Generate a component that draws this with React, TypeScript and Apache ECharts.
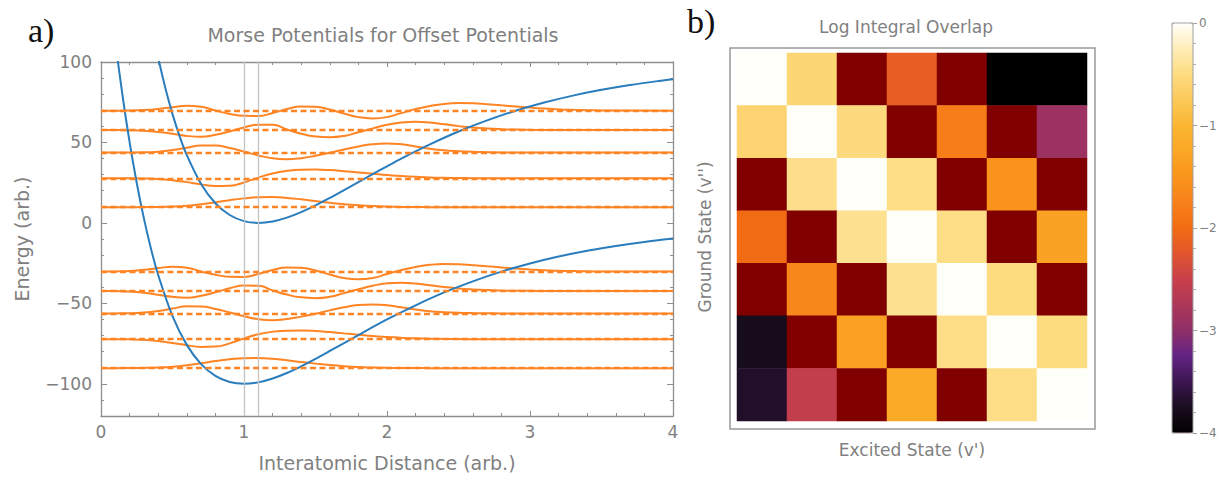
import React, { useEffect, useRef } from 'react';
import * as echarts from 'echarts';

// ---------- Data ----------
// Morse potential curves (Energy vs interatomic distance)
const GROUND_R = [0.05, 0.1, 0.15, 0.2, 0.25, 0.3, 0.35, 0.4, 0.5, 0.6, 0.7, 0.8, 0.9, 1.0, 1.1, 1.2, 1.3, 1.4, 1.5, 1.6, 1.8, 2.0, 2.2, 2.4, 2.6, 2.8, 3.0, 3.2, 3.4, 3.6, 3.8, 4.0];
const GROUND_V = [151.5, 113.0, 79.5, 50.2, 24.8, 2.8, -16.2, -32.4, -57.9, -75.8, -87.8, -95.1, -98.9, -100, -99.1, -96.7, -93.3, -89.1, -84.5, -79.6, -69.7, -60.0, -51.2, -43.2, -36.3, -30.3, -25.2, -20.9, -17.3, -14.3, -11.8, -9.7];
const EXCITED_R = [0.3, 0.35, 0.4, 0.45, 0.5, 0.55, 0.6, 0.7, 0.8, 0.9, 1.0, 1.1, 1.2, 1.3, 1.4, 1.5, 1.6, 1.7, 1.8, 1.9, 2.0, 2.1, 2.3, 2.5, 2.7, 2.9, 3.1, 3.3, 3.5, 3.7, 3.9, 4.0];
const EXCITED_V = [150.2, 124.8, 102.8, 83.8, 67.6, 53.8, 42.1, 24.2, 12.2, 4.9, 1.1, 0, 0.9, 3.3, 6.7, 10.9, 15.5, 20.4, 25.3, 30.3, 35.2, 40.0, 48.8, 56.8, 63.7, 69.7, 74.8, 79.1, 82.7, 85.7, 88.2, 89.3];

// Vibrational energy levels
const GROUND_LEVELS = [-90.25, -72.25, -56.25, -42.25, -30.25];
const EXCITED_LEVELS = [9.75, 27.75, 43.75, 57.75, 69.75];
// Equilibrium distances (also the two grey vertical guide lines)
const GROUND_R0 = 1.0;
const EXCITED_R0 = 1.1;
const GUIDE_LINES = [1.0, 1.1];

// Wavefunction offsets from their level, sampled at distance u = r - r0
const U_GRID = [-1.0, -0.9, -0.8, -0.7, -0.6, -0.5, -0.4, -0.3, -0.2, -0.1, 0.0, 0.1, 0.2, 0.3, 0.4, 0.5, 0.6, 0.7, 0.8, 0.9, 1.0, 1.1, 1.2, 1.3, 1.4, 1.5, 1.6, 1.7, 1.8, 1.9, 2.0, 2.1, 2.2, 2.3, 2.4, 2.5];
const WAVE_0 = [0, 0, 0.05, 0.15, 0.4, 0.9, 1.8, 3.0, 4.4, 5.5, 6.2, 6.3, 5.8, 4.9, 3.8, 2.8, 1.9, 1.2, 0.7, 0.4, 0.2, 0.1, 0.05, 0, 0, 0, 0, 0, 0, 0, 0, 0, 0, 0, 0, 0];
const WAVE_1 = [0, 0, -0.1, -0.4, -1.2, -2.4, -3.8, -4.8, -4.6, -2.6, 0.4, 3.0, 4.6, 5.3, 5.4, 5.1, 4.4, 3.6, 2.8, 2.0, 1.4, 0.9, 0.5, 0.3, 0.15, 0.05, 0, 0, 0, 0, 0, 0, 0, 0, 0, 0];
const WAVE_2 = [0, 0.02, 0.1, 0.5, 1.5, 3.0, 4.4, 4.3, 2.8, 0.6, -1.8, -3.6, -4.2, -3.5, -2.0, -0.2, 1.9, 3.8, 5.2, 5.6, 5.1, 3.8, 2.4, 1.4, 0.8, 0.4, 0.2, 0.08, 0, 0, 0, 0, 0, 0, 0, 0];
const WAVE_3 = [0, -0.1, -0.4, -1.2, -2.4, -3.7, -4.2, -3.0, -0.9, 1.6, 3.3, 3.2, 0.3, -2.3, -4.0, -4.5, -3.7, -1.4, 1.0, 3.2, 4.7, 5.1, 4.6, 3.5, 2.4, 1.5, 0.9, 0.5, 0.25, 0.1, 0.03, 0, 0, 0, 0, 0];
const WAVE_4 = [0.02, 0.1, 0.4, 1.1, 2.2, 3.0, 2.4, 0.1, -2.0, -3.2, -3.3, -1.5, 1.0, 2.6, 2.4, 0.7, -1.8, -4.0, -4.8, -4.0, -1.5, 1.0, 2.9, 4.2, 4.7, 4.6, 4.0, 3.3, 2.6, 1.9, 1.3, 0.8, 0.5, 0.3, 0.15, 0.05];
const WAVES = [WAVE_0, WAVE_1, WAVE_2, WAVE_3, WAVE_4];

// Heatmap: log integral overlap, rows = ground state v'', columns = excited state v'
// (-6 marks cells below the colour range, drawn in dark red)
const EXCITED_STATES = ['0', '1', '2', '3', '4', '5', '6'];
const GROUND_STATES = ['0', '1', '2', '3', '4', '5', '6'];
const OVERLAP_ROW_0 = [0, -0.58, -6, -2.15, -6, -4, -4];
const OVERLAP_ROW_1 = [-0.6, 0, -0.52, -6, -1.8, -6, -2.9];
const OVERLAP_ROW_2 = [-6, -0.45, 0, -0.47, -6, -1.52, -6];
const OVERLAP_ROW_3 = [-2.02, -6, -0.43, 0, -0.47, -6, -1.32];
const OVERLAP_ROW_4 = [-6, -1.68, -6, -0.43, 0, -0.5, -6];
const OVERLAP_ROW_5 = [-3.78, -6, -1.35, -6, -0.47, 0, -0.5];
const OVERLAP_ROW_6 = [-3.7, -2.55, -6, -1.2, -6, -0.47, 0];
const OVERLAP_ROWS = [OVERLAP_ROW_0, OVERLAP_ROW_1, OVERLAP_ROW_2, OVERLAP_ROW_3, OVERLAP_ROW_4, OVERLAP_ROW_5, OVERLAP_ROW_6];

// Colour scale (-4 .. 0, evenly spaced stops)
const COLOR_STOPS = ['#000000', '#1a0d1f', '#3b1650', '#632385', '#8e2f68', '#ad3758', '#c8404a', '#e0552e', '#f26c12', '#f7811a', '#f9951c', '#fba726', '#fbb631', '#fcc95a', '#fddc80', '#feedb8', '#fffffa'];
const BELOW_RANGE_COLOR = '#800000';

// ---------- Styling ----------
const FONT = '"DejaVu Sans", sans-serif';
const GRAY = '#808080';
const FRAME = '#8e8e8e';
const BLUE = '#2a7dbc';
const ORANGE = '#ff8424';

const fmt = (v: number) => (v < 0 ? '\u2212' + Math.abs(v) : String(v));

function buildWave(r0: number, level: number, dev: number[]) {
  const pts: number[][] = [[0, level]];
  U_GRID.forEach((u, i) => {
    const r = Math.round((r0 + u) * 1000) / 1000;
    if (r > 0.001 && r < 3.999) pts.push([r, level + dev[i]]);
  });
  pts.push([4, level]);
  return pts;
}

export default function App() {
  const ref = useRef<HTMLDivElement>(null);

  useEffect(() => {
    if (!ref.current) return;
    const chart = echarts.init(ref.current, undefined, { renderer: 'svg' });

    const frameAxis = (extra: any) => ({
      gridIndex: 0,
      type: 'value',
      axisLine: { show: true, onZero: false, lineStyle: { color: FRAME, width: 1.3 } },
      splitLine: { show: false },
      minorSplitLine: { show: false },
      ...extra,
    });

    const waveSeries: any[] = [];
    const addWaves = (r0: number, levels: number[]) => {
      levels.forEach((lvl, n) => {
        waveSeries.push({
          type: 'line',
          xAxisIndex: 0,
          yAxisIndex: 0,
          data: buildWave(r0, lvl, WAVES[n]),
          symbol: 'none',
          smooth: 0.5,
          silent: true,
          z: 2,
          lineStyle: { color: ORANGE, width: 2 },
          markLine: {
            silent: true,
            symbol: ['none', 'none'],
            label: { show: false },
            lineStyle: { color: ORANGE, width: 2.3, type: [6, 3.5] },
            data: [{ yAxis: lvl }],
          },
        });
      });
    };
    addWaves(EXCITED_R0, EXCITED_LEVELS);
    addWaves(GROUND_R0, GROUND_LEVELS);

    const heatData: number[][] = [];
    OVERLAP_ROWS.forEach((row, y) => row.forEach((v, x) => heatData.push([x, y, v])));

    const series: any[] = [
      {
        type: 'line',
        xAxisIndex: 0,
        yAxisIndex: 0,
        data: [],
        silent: true,
        z: 1,
        markLine: {
          silent: true,
          symbol: ['none', 'none'],
          label: { show: false },
          lineStyle: { color: '#c4c4c4', width: 1.3, type: 'solid' },
          data: GUIDE_LINES.map((x) => ({ xAxis: x })),
        },
      },
      ...waveSeries,
      {
        type: 'line',
        xAxisIndex: 0,
        yAxisIndex: 0,
        data: GROUND_R.map((r, i) => [r, GROUND_V[i]]),
        symbol: 'none',
        smooth: 0.3,
        silent: true,
        z: 3,
        lineStyle: { color: BLUE, width: 2 },
      },
      {
        type: 'line',
        xAxisIndex: 0,
        yAxisIndex: 0,
        data: EXCITED_R.map((r, i) => [r, EXCITED_V[i]]),
        symbol: 'none',
        smooth: 0.3,
        silent: true,
        z: 3,
        lineStyle: { color: BLUE, width: 2 },
      },
      {
        type: 'heatmap',
        xAxisIndex: 2,
        yAxisIndex: 4,
        data: heatData,
        silent: true,
        emphasis: { disabled: true },
        itemStyle: { borderWidth: 0 },
      },
    ];
    const heatIndex = series.length - 1;

    const majorY = [-100, -50, 0, 50, 100];

    chart.setOption({
      animation: false,
      backgroundColor: '#ffffff',
      textStyle: { fontFamily: FONT },
      grid: [
        { left: 101, top: 62, width: 572, height: 356 },
        { left: 737, top: 53, width: 350, height: 368 },
        { left: 1172, top: 23, width: 21, height: 410, show: true, borderColor: '#a0a0a0', borderWidth: 1, backgroundColor: 'transparent', z: 10 },
      ],
      xAxis: [
        frameAxis({
          min: 0, max: 4, interval: 1, position: 'bottom',
          axisTick: { show: true, inside: true, length: 5, lineStyle: { color: FRAME } },
          minorTick: { show: true, splitNumber: 5, length: 3, lineStyle: { color: FRAME } },
          axisLabel: { color: GRAY, fontSize: 17, fontFamily: FONT, margin: 7 },
          name: 'Interatomic Distance (arb.)',
          nameLocation: 'middle',
          nameGap: 37,
          nameTextStyle: { color: GRAY, fontSize: 19, fontFamily: FONT },
        }),
        frameAxis({
          min: 0, max: 4, interval: 1, position: 'top',
          axisTick: { show: true, inside: true, length: 5, lineStyle: { color: FRAME } },
          minorTick: { show: true, splitNumber: 5, length: 3, lineStyle: { color: FRAME } },
          axisLabel: { show: false },
        }),
        {
          gridIndex: 1, type: 'category', data: EXCITED_STATES, position: 'bottom',
          axisLine: { show: false }, axisTick: { show: false }, axisLabel: { show: false }, splitLine: { show: false },
          name: "Excited State (v')", nameLocation: 'middle', nameGap: 20,
          nameTextStyle: { color: GRAY, fontSize: 17, fontFamily: FONT },
        },
        { gridIndex: 2, type: 'category', data: ['scale'], show: false },
      ],
      yAxis: [
        frameAxis({
          min: -120, max: 100, interval: 10, position: 'left',
          axisTick: { show: true, inside: true, length: 3, lineStyle: { color: FRAME } },
          axisLabel: {
            color: GRAY, fontSize: 17, fontFamily: FONT, margin: 9,
            formatter: (v: number) => (v % 50 === 0 ? fmt(v) : ''),
          },
          name: 'Energy (arb.)',
          nameLocation: 'middle',
          nameGap: 70,
          nameTextStyle: { color: GRAY, fontSize: 19, fontFamily: FONT },
        }),
        frameAxis({
          min: -120, max: 100, interval: 10, position: 'left',
          axisLine: { show: false, onZero: false },
          axisTick: { show: true, inside: true, length: 6, customValues: majorY, lineStyle: { color: FRAME } },
          axisLabel: { show: false },
        }),
        frameAxis({
          min: -120, max: 100, interval: 10, position: 'right',
          axisTick: { show: true, inside: true, length: 3, lineStyle: { color: FRAME } },
          axisLabel: { show: false },
        }),
        frameAxis({
          min: -120, max: 100, interval: 10, position: 'right',
          axisLine: { show: false, onZero: false },
          axisTick: { show: true, inside: true, length: 6, customValues: majorY, lineStyle: { color: FRAME } },
          axisLabel: { show: false },
        }),
        {
          gridIndex: 1, type: 'category', data: GROUND_STATES, inverse: true, position: 'left',
          axisLine: { show: false }, axisTick: { show: false }, axisLabel: { show: false }, splitLine: { show: false },
          name: "Ground State (v'')", nameLocation: 'middle', nameGap: 24,
          nameTextStyle: { color: GRAY, fontSize: 17, fontFamily: FONT },
        },
        {
          gridIndex: 2, type: 'value', min: -4, max: 0, interval: 1, position: 'right',
          axisLine: { show: false, onZero: false },
          axisTick: { show: true, inside: false, length: 4, lineStyle: { color: '#a0a0a0' } },
          minorTick: { show: true, splitNumber: 5, length: 3, lineStyle: { color: '#b0b0b0' } },
          splitLine: { show: false },
          axisLabel: { color: GRAY, fontSize: 12, fontFamily: FONT, margin: 6, formatter: (v: number) => fmt(v) },
        },
      ],
      visualMap: {
        type: 'continuous',
        seriesIndex: heatIndex,
        dimension: 2,
        min: -4.002,
        max: 0,
        range: [-4, 0],
        calculable: false,
        hoverLink: false,
        show: true,
        orient: 'vertical',
        left: 1172,
        top: 23,
        padding: 0,
        itemWidth: 21,
        itemHeight: 410,
        inRange: { color: COLOR_STOPS },
        outOfRange: { color: [BELOW_RANGE_COLOR] },
      },
      graphic: [
        {
          type: 'text', x: 28, y: 30,
          style: { text: 'a)', font: '34px "Liberation Serif", serif', fill: '#111111', textAlign: 'left', textVerticalAlign: 'middle', align: 'left', verticalAlign: 'middle' },
        },
        {
          type: 'text', x: 687, y: 21,
          style: { text: 'b)', font: '34px "Liberation Serif", serif', fill: '#111111', textAlign: 'left', textVerticalAlign: 'middle', align: 'left', verticalAlign: 'middle' },
        },
        {
          type: 'text', x: 383, y: 35,
          style: { text: 'Morse Potentials for Offset Potentials', font: '19px "DejaVu Sans", sans-serif', fill: GRAY, textAlign: 'center', textVerticalAlign: 'middle', align: 'center', verticalAlign: 'middle' },
        },
        {
          type: 'text', x: 906, y: 27,
          style: { text: 'Log Integral Overlap', font: '17px "DejaVu Sans", sans-serif', fill: GRAY, textAlign: 'center', textVerticalAlign: 'middle', align: 'center', verticalAlign: 'middle' },
        },
        {
          type: 'rect', shape: { x: 730, y: 48, width: 365, height: 381 },
          style: { fill: 'none', stroke: '#999999', lineWidth: 1.5 },
          z: 20,
        },
      ],
      series,
    });

    return () => chart.dispose();
  }, []);

  return <div ref={ref} style={{ position: 'fixed', left: 0, top: 0, width: 1222, height: 477, background: '#fff' }} />;
}
